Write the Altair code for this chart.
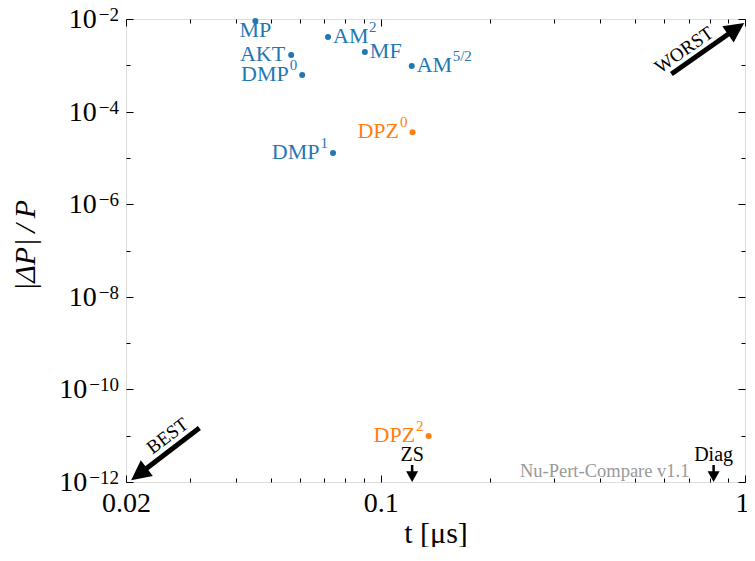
import math
import altair as alt
import pandas as pd

FONT = "Liberation Serif"

# ---------------- data ----------------
method_base = ["MP", "AM", "AKT", "MF", "DMP", "AM", "DPZ", "DMP", "DPZ"]
method_sup = ["", "2", "", "", "0", "5/2", "0", "1", "2"]
t_us = [0.0453, 0.0717, 0.0568, 0.0905, 0.0609, 0.1217, 0.1223, 0.0740, 0.1354]
rel_err = [9.1e-3, 4.1e-3, 1.67e-3, 1.94e-3, 6.2e-4, 9.7e-4, 3.6e-5, 1.28e-5, 9.9e-12]
family = ["other", "other", "other", "other", "other", "other", "DPZ", "other", "DPZ"]

marker_names = ["ZS", "Diag"]
marker_t = [0.122, 0.82]

arrow_names = ["BEST", "WORST"]
arrow_tail_x = [0.0318, 0.628]
arrow_tail_y = [1.47e-11, 6.5e-4]
arrow_head_x = [0.02183, 0.94]
arrow_head_y = [1.53e-12, 5.99e-3]
arrow_label_x = [0.0260, 0.680]
arrow_label_y = [9.9e-12, 2.14e-3]

watermark = ["Nu-Pert-Compare v1.1"]

x_major = [0.02, 0.1, 1.0]
x_minor = [0.03, 0.04, 0.05, 0.06, 0.07, 0.08, 0.09,
           0.2, 0.3, 0.4, 0.5, 0.6, 0.7, 0.8, 0.9]
y_major = [1e-12, 1e-10, 1e-8, 1e-6, 1e-4, 1e-2]
y_minor = [1e-11, 1e-9, 1e-7, 1e-5, 1e-3]

BLUE = "#1f77b4"
ORANGE = "#ff7f0e"

methods = [b + s for b, s in zip(method_base, method_sup)]
df = pd.DataFrame({"method": methods, "base": method_base, "sup": method_sup,
                   "t": t_us, "err": rel_err, "family": family})
df_mark = pd.DataFrame({"name": marker_names, "t": marker_t})
df_arrow = pd.DataFrame({
    "name": arrow_names,
    "x0": arrow_tail_x, "y0": arrow_tail_y,
    "x1": arrow_head_x, "y1": arrow_head_y,
    "lx": arrow_label_x, "ly": arrow_label_y,
})
df_wm = pd.DataFrame({"txt": watermark})

exps = [round(math.log10(v)) for v in y_major]
df_ytick = pd.DataFrame({
    "v": y_major,
    "base": ["10"] * len(y_major),
    "exp": ["\u2212" + str(-e) for e in exps],
    "twodig": [abs(e) >= 10 for e in exps],
})

xscale = alt.Scale(type="log", domain=[0.02, 1], nice=False)
yscale = alt.Scale(type="log", domain=[1e-12, 1e-2], nice=False)

# approximate advance widths (em) of the serif font, for placing superscripts
W = {"A": .722, "M": .889, "K": .722, "T": .611, "D": .722, "P": .556, "Z": .611,
     "F": .556, "0": .5, "1": .5, "2": .5, "5": .5, "/": .278, "\u2212": .564}


def tw(s, size):
    return sum(W.get(c, .5) for c in s) * size


def axis(orient, values, size, **kw):
    return alt.Axis(orient=orient, values=values, tickSize=size, offset=-size,
                    domain=False, grid=False, ticks=True, tickColor="black",
                    tickWidth=1, **kw)


ax_bottom_major = axis("bottom", x_major, 7, labels=True, format="~g", labelPadding=7,
                       labelFont=FONT, labelFontSize=28, labelColor="black",
                       labelFlush=False, labelOverlap=False, labelBound=False,
                       labelOffset={"condition": {"test": "datum.value >= 0.99", "value": -3},
                                    "value": 0},
                       title="t [μs]", titleFont=FONT, titleFontSize=30,
                       titleFontWeight="normal", titleColor="black",
                       titleBaseline="alphabetic", titleY=67)
ax_left_major = axis("left", y_major, 7, labels=False,
                     title="|ΔP|\u2009/\u2009P", titleFont=FONT, titleFontSize=30,
                     titleFontStyle="italic", titleFontWeight="normal", titleColor="black",
                     titleX=-93, titleY=226)
ax_bottom_minor = axis("bottom", x_minor, 4, labels=False, title=None)
ax_left_minor = axis("left", y_minor, 4, labels=False, title=None)
ax_top_major = axis("top", x_major, 7, labels=False, title=None)
ax_right_major = axis("right", y_major, 7, labels=False, title=None)
ax_top_minor = axis("top", x_minor, 4, labels=False, title=None)
ax_right_minor = axis("right", y_minor, 4, labels=False, title=None)

color = alt.Color("family:N", scale=alt.Scale(domain=["other", "DPZ"], range=[BLUE, ORANGE]),
                  legend=None)

base = alt.Chart(df)


def carrier(xax, yax):
    return base.mark_circle(opacity=0).encode(
        x=alt.X("t:Q", scale=xscale, axis=xax),
        y=alt.Y("err:Q", scale=yscale, axis=yax),
    )


layers = [
    carrier(ax_bottom_minor, ax_left_minor),
    carrier(ax_top_major, ax_right_major),
    carrier(ax_top_minor, ax_right_minor),
]

XN = lambda f: alt.X(f, scale=xscale, axis=None)
YN = lambda f: alt.Y(f, scale=yscale, axis=None)

# ---- y tick labels: "10" with a raised exponent ----
yt = alt.Chart(df_ytick)
EXP_SIZE, TEN_SIZE, EXP_DX = 19, 28, -7
layers.append(yt.mark_text(font=FONT, fontSize=EXP_SIZE, align="right", baseline="alphabetic",
                           dx=EXP_DX, dy=2, color="black").encode(
    x=alt.X(datum=0.02, scale=xscale, axis=None), y=YN("v:Q"), text="exp:N"))
for two, sample in [(False, "\u22122"), (True, "\u221212")]:
    layers.append(yt.mark_text(font=FONT, fontSize=TEN_SIZE, align="right",
                               baseline="alphabetic",
                               dx=EXP_DX - tw(sample, EXP_SIZE) - 2, dy=9,
                               color="black").encode(
        x=alt.X(datum=0.02, scale=xscale, axis=None), y=YN("v:Q"), text="base:N"
    ).transform_filter(alt.datum.twodig == two))

# ---- ZS / Diag markers ----
mk = alt.Chart(df_mark)
layers += [
    mk.mark_rule(color="black", strokeWidth=2.5).encode(
        x=XN("t:Q"), y=alt.Y(datum=2.33e-12, scale=yscale, axis=None), y2=alt.datum(1.4e-12)),
    mk.mark_point(shape="M-1,-0.8L1,-0.8L0,1Z", size=144, filled=True, opacity=1,
                  color="black", strokeWidth=0).encode(
        x=XN("t:Q"), y=alt.Y(datum=1.35e-12, scale=yscale, axis=None)),
    mk.mark_text(font=FONT, fontSize=20, color="black", baseline="middle").encode(
        x=XN("t:Q"), y=alt.Y(datum=3.83e-12, scale=yscale, axis=None), text="name:N"),
]

# ---- BEST / WORST arrows ----
ar = alt.Chart(df_arrow)
HEAD = "M0,-1L0.9,0.8L-0.9,0.8Z"
layers.append(ar.mark_rule(color="black", strokeWidth=5).encode(
    x=XN("x0:Q"), x2="x1:Q", y=YN("y0:Q"), y2="y1:Q"))
for name, head_angle, text_angle in [("BEST", 232.6, 323), ("WORST", 55, 325)]:
    layers.append(ar.mark_point(shape=HEAD, size=484, filled=True, opacity=1, color="black",
                                strokeWidth=0, angle=head_angle).encode(
        x=XN("x1:Q"), y=YN("y1:Q")).transform_filter(alt.datum.name == name))
    layers.append(ar.mark_text(font=FONT, fontSize=19, color="black", angle=text_angle,
                               baseline="middle").encode(
        x=XN("lx:Q"), y=YN("ly:Q"), text="name:N").transform_filter(alt.datum.name == name))

layers.append(alt.Chart(df_wm).mark_text(font=FONT, fontSize=18.5, color="#999999",
                                         align="right", baseline="middle").encode(
    x=alt.X(datum=0.704, scale=xscale, axis=None),
    y=alt.Y(datum=1.73e-12, scale=yscale, axis=None),
    text="txt:N"))

# ---- method labels (base text + superscript) ----
BASE_SIZE, SUP_SIZE = 22, 15
right_side = ["AM2", "MF", "AM5/2"]
below = ["MP"]


def label(method, field, align, dx, dy, size):
    return base.mark_text(font=FONT, fontSize=size, align=align, baseline="alphabetic",
                          dx=dx, dy=dy).encode(
        x=XN("t:Q"), y=YN("err:Q"), text=f"{field}:N", color=color
    ).transform_filter(alt.datum.method == method)


for b, s in zip(method_base, method_sup):
    m = b + s
    if m in below:
        layers.append(label(m, "base", "center", 0, 16, BASE_SIZE))
    elif m in right_side:
        layers.append(label(m, "base", "left", 5, 6, BASE_SIZE))
        if s:
            layers.append(label(m, "sup", "left", 5 + tw(b, BASE_SIZE) + 0.5, -5, SUP_SIZE))
    else:
        if s:
            layers.append(label(m, "sup", "right", -5, -5, SUP_SIZE))
            layers.append(label(m, "base", "right", -5 - tw(s, SUP_SIZE) - 1, 6, BASE_SIZE))
        else:
            layers.append(label(m, "base", "right", -6, 6, BASE_SIZE))

points = base.mark_circle(size=36, opacity=1).encode(
    x=alt.X("t:Q", scale=xscale, axis=ax_bottom_major),
    y=alt.Y("err:Q", scale=yscale, axis=ax_left_major),
    color=color,
)

chart = alt.layer(points, *layers).resolve_axis(x="independent", y="independent").properties(
    width=619, height=463,
    padding={"left": 118, "top": 11, "right": 2, "bottom": 65},
    autosize=alt.AutoSizeParams(type="none"),
).configure_view(stroke="black", strokeWidth=1.2).configure(background="white")

chart.save("out.html", embed_options={"renderer": "svg", "actions": False})
